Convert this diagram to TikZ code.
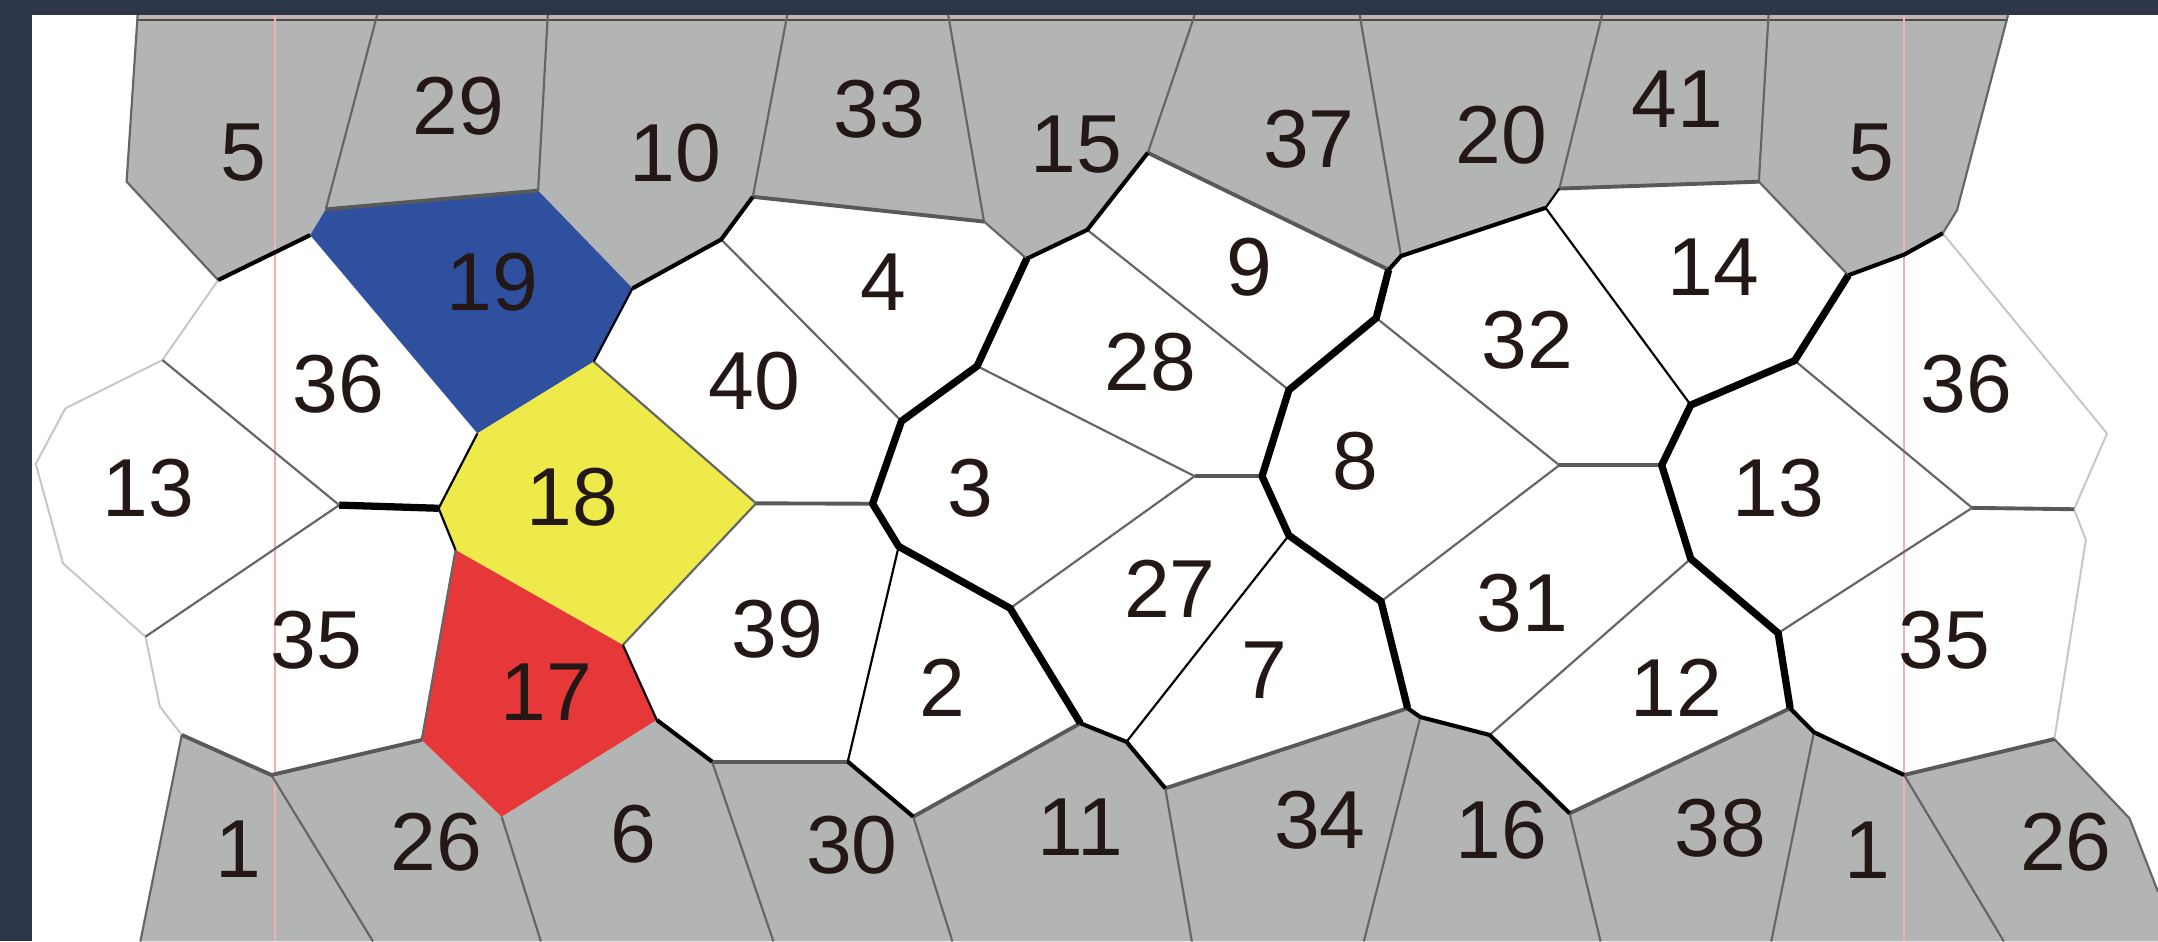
\documentclass[tikz,border=0pt]{standalone}
\usepackage{fontspec}
\setmainfont{Liberation Sans}
\usepackage{tikz}
\usetikzlibrary{calc}

\definecolor{frame}{HTML}{2C3648}
\definecolor{cellgray}{HTML}{B3B5B4}
\definecolor{cellblue}{HTML}{2F4F9F}
\definecolor{cellyellow}{HTML}{EEEA4A}
\definecolor{cellred}{HTML}{E63838}
\definecolor{numink}{HTML}{231815}
\definecolor{seam}{HTML}{F4B0B0}

\tikzset{
  cut/.style={line width=1.5pt, black, line join=round},
  halfcut/.style={line width=0.85pt, black, line join=round},
  wall/.style={line width=0.45pt, black},
  rim/.style={line width=0.8pt, gray!70!black},
  seg/.style={line width=0.45pt, gray!80!black},
  faint/.style={line width=0.4pt, gray!45},
  num/.style={font=\fontsize{17}{17}\selectfont, text=numink, inner sep=0pt},
}

\begin{document}
\begin{tikzpicture}[x=0.01cm,y=-0.01cm]
    \fill[frame] (0,0) rectangle (1568,684);
    \fill[white] (23,11) rectangle (1568,684);
    \useasboundingbox (0,0) rectangle (1568,684);

    % top edge points
    \coordinate (t1) at (100,11);   \coordinate (t2) at (274,11);
    \coordinate (t3) at (398,11);   \coordinate (t4) at (572,11);
    \coordinate (t5) at (689,11);   \coordinate (t6) at (868,11);
    \coordinate (t7) at (988,11);   \coordinate (t8) at (1164,11);
    \coordinate (t9) at (1285,11);  \coordinate (t10) at (1459,11);
    % upper vertices
    \coordinate (a1) at (92,132);      \coordinate (a2) at (158.5,203.5);
    \coordinate (a3) at (225.4,170.8); \coordinate (a4) at (236.7,152.1);
    \coordinate (a5) at (391,138.5);   \coordinate (a6) at (459.6,209.5);
    \coordinate (a7) at (524,174);     \coordinate (a8) at (547,143);
    \coordinate (a9) at (715,161);     \coordinate (a10) at (746,188);
    \coordinate (a11) at (790,167);    \coordinate (a12) at (834,111);
    \coordinate (a13) at (1009,196);   \coordinate (a14) at (1018,186);
    \coordinate (a15) at (1123,151);   \coordinate (a16) at (1133,137);
    \coordinate (a17) at (1278,132);   \coordinate (a18) at (1343,200);
    \coordinate (a19) at (1383.5,185); \coordinate (a20) at (1411.6,169.5);
    \coordinate (a21) at (1422,152.6);
    % middle vertices
    \coordinate (m1) at (118,261.6);   \coordinate (m2) at (47.5,296.7);
    \coordinate (m3) at (26,337);      \coordinate (m4) at (45.8,409.3);
    \coordinate (m5) at (105.7,462.6); \coordinate (m6) at (246.5,367);
    \coordinate (m7) at (318.7,369.3); \coordinate (m8) at (346.9,314.9);
    \coordinate (m9) at (431.4,262.8); \coordinate (m10) at (331,399.6);
    \coordinate (m11) at (452.6,468.6);\coordinate (m12) at (549.4,365.7);
    \coordinate (m13) at (655,306);    \coordinate (m14) at (634,366);
    \coordinate (m15) at (710,266);    \coordinate (m16) at (653,397);
    \coordinate (m17) at (734,442);    \coordinate (m18) at (868,346);
    \coordinate (m19) at (917,346);    \coordinate (m20) at (936.5,283.4);
    \coordinate (m21) at (1000,231);   \coordinate (m22) at (936.5,389);
    \coordinate (m23) at (1003.5,437); \coordinate (m24) at (1133,338);
    \coordinate (m25) at (1207.4,338); \coordinate (m26) at (1228.5,294.3);
    \coordinate (m27) at (1304,262);   \coordinate (m28) at (1228.5,406);
    \coordinate (m29) at (1292,460);   \coordinate (m30) at (1433,369);
    \coordinate (m31) at (1507,370);   \coordinate (m32) at (1531,315);
    \coordinate (m33) at (1515.6,392.3);
    % lower vertices
    \coordinate (b1) at (116.2,513.4); \coordinate (b2) at (132.1,534);
    \coordinate (b3) at (197.2,563.1); \coordinate (b4) at (306.4,537.7);
    \coordinate (b5) at (364.5,593.4); \coordinate (b6) at (477.2,523.1);
    \coordinate (b7) at (517.4,553.4); \coordinate (b8) at (616,553.4);
    \coordinate (b9) at (663.6,593.4); \coordinate (b10) at (785,525.5);
    \coordinate (b11) at (818.5,539);  \coordinate (b12) at (846.7,572.8);
    \coordinate (b13) at (1022.8,514.6);\coordinate (b14) at (1032,521);
    \coordinate (b15) at (1082.4,534); \coordinate (b16) at (1140.5,591);
    \coordinate (b17) at (1300.7,514.6);\coordinate (b18) at (1318,532);
    \coordinate (b19) at (1383.5,563.1);\coordinate (b20) at (1492.7,537);
    \coordinate (b21) at (1547.3,594.6);\coordinate (e1) at (1568,648);
    % bottom edge points
    \coordinate (d1) at (102,684);  \coordinate (d2) at (271,684);
    \coordinate (d3) at (393,684);  \coordinate (d4) at (562,684);
    \coordinate (d5) at (692,684);  \coordinate (d6) at (866,684);
    \coordinate (d7) at (991,684);  \coordinate (d8) at (1163,684);
    \coordinate (d9) at (1287,684); \coordinate (d10) at (1456,684);

    % gray bands
    \fill[cellgray] (t1) -- (a1) -- (a2) -- (a3) -- (a4) -- (a5) -- (a6) -- (a7) -- (a8)
        -- (a9) -- (a10) -- (a11) -- (a12) -- (a13) -- (a14) -- (a15) -- (a16) -- (a17)
        -- (a18) -- (a19) -- (a20) -- (a21) -- (t10) -- cycle;
    \fill[cellgray] (d1) -- (b2) -- (b3) -- (b4) -- (b5) -- (b6) -- (b7) -- (b8) -- (b9)
        -- (b10) -- (b11) -- (b12) -- (b13) -- (b14) -- (b15) -- (b16) -- (b17) -- (b18)
        -- (b19) -- (b20) -- (b21) -- (e1) -- (1568,684) -- cycle;
    \fill[cellgray!75!seam] (t1) rectangle (1459,15);
    \draw[line width=0.5pt, gray!60!black] (100,14.5) -- (1459,14.5);

    % coloured cells
    \fill[cellblue] (a3) -- (a4) -- (a5) -- (a6) -- (m9) -- (m8) -- cycle;
    \fill[cellyellow] (m8) -- (m9) -- (m12) -- (m11) -- (m10) -- (m7) -- cycle;
    \fill[cellred] (m10) -- (m11) -- (b6) -- (b5) -- (b4) -- cycle;

    % seams
    \draw[seam, line width=0.45pt] (200,11) -- (200,684);
    \draw[seam, line width=0.45pt] (1383.5,11) -- (1383.5,684);

    % outer rims
    \draw[faint] (a2) -- (m1) -- (m2) -- (m3) -- (m4) -- (m5) -- (b1) -- (b2);
    \draw[faint] (a20) -- (m32) -- (m31) -- (m33) -- (b20);

    % thin gray walls
    \draw[seg] (t1) -- (a1) -- (a2);
    \draw[seg] (a20) -- (a21) -- (t10);
    \foreach \p/\q in {t2/a4, t3/a5, t4/a8, t5/a9, t6/a12, t7/a14, t8/a16, t9/a17,
        a9/a10, a17/a18, m1/m6, m5/m6, m10/b4, a7/m13, m15/m18, m17/m18, a11/m20,
        m21/m24, m23/m24, m27/m30, m29/m30, m28/b15, m9/m12, m12/m11,
        b2/d1, b3/d2, b5/d3, b7/d4, b9/d5, b12/d6, b14/d7, b16/d8, b18/d9, b19/d10}
        \draw[seg] (\p) -- (\q);
    \draw[seg] (b20) -- (b21) -- (e1);

    % medium gray walls
    \foreach \p/\q in {a4/a5, a8/a9, a12/a13, a16/a17, m24/m25, m30/m31, b7/b8,
        b9/b10, b12/b13, b16/b17, b19/b20, m12/m14, m18/m19}
        \draw[rim] (\p) -- (\q);
    \draw[rim] (b2) -- (b3) -- (b4);

    % thin black walls
    \foreach \p/\q in {a15/a16, a6/m9, b6/m11, b8/m16, m22/b11, a15/m26}
        \draw[wall] (\p) -- (\q);
    \draw[wall] (m8) -- (m7) -- (m10);

    % medium black walls
    \draw[halfcut] (a2) -- (a3);
    \draw[halfcut] (a6) -- (a7) -- (a8);
    \draw[halfcut] (a10) -- (a11) -- (a12);
    \draw[halfcut] (a13) -- (a14) -- (a15);
    \draw[halfcut] (a18) -- (a19) -- (a20);
    \draw[halfcut] (b10) -- (b11) -- (b12);
    \draw[halfcut] (b13) -- (b14) -- (b15) -- (b16);
    \draw[halfcut] (b17) -- (b18) -- (b19);
    \draw[halfcut] (b6) -- (b7);
    \draw[halfcut] (b8) -- (b9);

    % thick cuts
    \draw[cut] (m6) -- (m7);
    \draw[cut] (a10) -- (m15) -- (m13) -- (m14) -- (m16) -- (m17) -- (b10);
    \draw[cut] (a13) -- (m21) -- (m20) -- (m19) -- (m22) -- (m23) -- (b13);
    \draw[cut] (a18) -- (m27) -- (m26) -- (m25) -- (m28) -- (m29) -- (b17);

    % Labels for cells
    \node[num] (c5a) at (177,111) {5};
    \node[num] (c29) at (333,77) {29};
    \node[num] (c10) at (491,111) {10};
    \node[num] (c33) at (639,79) {33};
    \node[num] (c15) at (782,105) {15};
    \node[num] (c37) at (951,101) {37};
    \node[num] (c20) at (1091,98) {20};
    \node[num] (c41) at (1219,72) {41};
    \node[num] (c5b) at (1360,111) {5};
    \node[num] (c19) at (358,205) {19};
    \node[num] (c4) at (642,205) {4};
    \node[num] (c9) at (908,194) {9};
    \node[num] (c14) at (1245,194) {14};
    \node[num] (c36a) at (246,279) {36};
    \node[num] (c40) at (548,277) {40};
    \node[num] (c28) at (836,263) {28};
    \node[num] (c32) at (1110,247) {32};
    \node[num] (c36b) at (1429,279) {36};
    \node[num] (c13a) at (108,355) {13};
    \node[num] (c18) at (416,361) {18};
    \node[num] (c3) at (705,355) {3};
    \node[num] (c8) at (985,335) {8};
    \node[num] (c13b) at (1292,355) {13};
    \node[num] (c35a) at (230,465) {35};
    \node[num] (c39) at (565,457) {39};
    \node[num] (c27) at (850,428) {27};
    \node[num] (c31) at (1106,438) {31};
    \node[num] (c35b) at (1413,465) {35};
    \node[num] (c17) at (397,503) {17};
    \node[num] (c2) at (685,500) {2};
    \node[num] (c7) at (919,487) {7};
    \node[num] (c12) at (1218,500) {12};
    \node[num] (c1a) at (173,617) {1};
    \node[num] (c26a) at (317,612) {26};
    \node[num] (c6) at (460,606) {6};
    \node[num] (c30) at (619,614) {30};
    \node[num] (c11) at (785,601) {11};
    \node[num] (c34) at (959,596) {34};
    \node[num] (c16) at (1091,603) {16};
    \node[num] (c38) at (1250,602) {38};
    \node[num] (c1b) at (1357,618) {1};
    \node[num] (c26b) at (1501,612) {26};
\end{tikzpicture}
\end{document}
